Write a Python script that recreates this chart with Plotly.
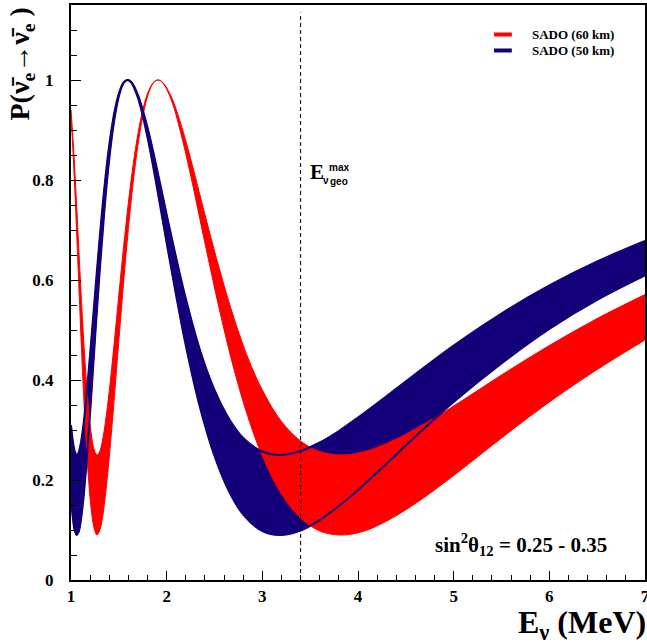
import plotly.graph_objects as go

# ---------------- data ----------------
# 50 km baseline band: upper edge (sin^2 theta12 = 0.25), lower edge (0.35)
E_50 = [1.00, 1.02, 1.04, 1.06, 1.08, 1.10, 1.13, 1.16, 1.20, 1.25, 1.30, 1.35,
        1.40, 1.45, 1.50, 1.55, 1.59, 1.63, 1.70, 1.80, 1.90, 2.00, 2.10, 2.20,
        2.35, 2.50, 2.65, 2.80, 3.00, 3.18, 3.40, 3.60, 3.80, 4.00, 4.30, 4.60,
        5.00, 5.50, 6.00, 6.50, 7.00]
P_50_hi = [0.310, 0.277, 0.257, 0.250, 0.255, 0.271, 0.310, 0.365, 0.452, 0.570,
           0.685, 0.787, 0.870, 0.932, 0.973, 0.995, 1.000, 0.996, 0.970, 0.905,
           0.821, 0.731, 0.644, 0.563, 0.459, 0.380, 0.323, 0.284, 0.257, 0.250,
           0.258, 0.275, 0.298, 0.325, 0.368, 0.412, 0.469, 0.533, 0.589, 0.637,
           0.678]
P_50_lo = [0.163, 0.123, 0.098, 0.090, 0.096, 0.115, 0.163, 0.229, 0.335, 0.479,
           0.618, 0.741, 0.842, 0.917, 0.967, 0.994, 1.000, 0.995, 0.964, 0.885,
           0.783, 0.674, 0.568, 0.469, 0.344, 0.248, 0.178, 0.131, 0.098, 0.090,
           0.099, 0.120, 0.148, 0.180, 0.233, 0.287, 0.356, 0.433, 0.502, 0.560,
           0.609]

# 60 km baseline band
E_60 = [1.00, 1.03, 1.06, 1.09, 1.12, 1.15, 1.18, 1.21, 1.24, 1.27, 1.30, 1.33,
        1.36, 1.40, 1.45, 1.50, 1.55, 1.60, 1.65, 1.70, 1.75, 1.80, 1.86, 1.91,
        1.96, 2.05, 2.15, 2.25, 2.40, 2.55, 2.70, 2.85, 3.00, 3.20, 3.40, 3.60,
        3.82, 4.05, 4.30, 4.60, 5.00, 5.50, 6.00, 6.50, 7.00]
P_60_hi = [0.941, 0.853, 0.745, 0.630, 0.521, 0.426, 0.350, 0.295, 0.262, 0.250,
           0.257, 0.280, 0.316, 0.378, 0.471, 0.570, 0.667, 0.755, 0.831, 0.893,
           0.940, 0.973, 0.995, 1.000, 0.995, 0.966, 0.911, 0.843, 0.731, 0.623,
           0.526, 0.444, 0.380, 0.317, 0.278, 0.257, 0.250, 0.256, 0.273, 0.302,
           0.348, 0.410, 0.469, 0.523, 0.571]
P_60_lo = [0.929, 0.822, 0.690, 0.551, 0.419, 0.303, 0.211, 0.144, 0.105, 0.090,
           0.099, 0.126, 0.170, 0.246, 0.358, 0.479, 0.596, 0.703, 0.795, 0.870,
           0.927, 0.967, 0.994, 1.000, 0.994, 0.959, 0.892, 0.810, 0.674, 0.542,
           0.424, 0.326, 0.248, 0.172, 0.124, 0.098, 0.090, 0.097, 0.118, 0.153,
           0.209, 0.284, 0.356, 0.421, 0.480]

E_geo_max = 3.40

x_tickvals = [1, 2, 3, 4, 5, 6, 7]
x_ticktext = ["1", "2", "3", "4", "5", "6", "7"]
y_tickvals = [0, 0.2, 0.4, 0.6, 0.8, 1.0]
y_ticktext = ["0", "0.2", "0.4", "0.6", "0.8", "1"]

legend_labels = ["SADO (60 km)", "SADO (50 km)"]

# ---------------- style ----------------
RED = "#ff0000"
BLUE = "#140078"
SERIF = "Liberation Serif"
SANS = "Liberation Sans"

fig = go.Figure()

# blue band
fig.add_trace(go.Scatter(x=E_50, y=P_50_lo, mode="lines",
                         line=dict(color=BLUE, width=1, shape="spline"),
                         showlegend=False, hoverinfo="skip"))
fig.add_trace(go.Scatter(x=E_50, y=P_50_hi, mode="lines", fill="tonexty",
                         fillcolor=BLUE,
                         line=dict(color=BLUE, width=1, shape="spline"),
                         showlegend=False, hoverinfo="skip"))
# red band (drawn over blue)
fig.add_trace(go.Scatter(x=E_60, y=P_60_lo, mode="lines",
                         line=dict(color=RED, width=1, shape="spline"),
                         showlegend=False, hoverinfo="skip"))
fig.add_trace(go.Scatter(x=E_60, y=P_60_hi, mode="lines", fill="tonexty",
                         fillcolor=RED,
                         line=dict(color=RED, width=1, shape="spline"),
                         showlegend=False, hoverinfo="skip"))
# blue band edges on top
for yy in (P_50_lo, P_50_hi):
    fig.add_trace(go.Scatter(x=E_50, y=yy, mode="lines",
                             line=dict(color=BLUE, width=2, shape="spline"),
                             showlegend=False, hoverinfo="skip"))

# dashed vertical line
fig.add_shape(type="line", xref="x", yref="y", x0=E_geo_max, x1=E_geo_max,
              y0=0, y1=1.135, line=dict(color="black", width=1, dash="4px,3px"))


def note(x, y, text, size, family=SERIF, xa="center", ya="middle", angle=0):
    fig.add_annotation(xref="paper", yref="paper", x=x, y=y, text=text,
                       xanchor=xa, yanchor=ya, showarrow=False, textangle=angle,
                       font=dict(family=family, size=size, color="black",
                                 weight="bold"))


# legend (manual)
for i, (lab, col) in enumerate(zip(legend_labels, [RED, BLUE])):
    yp = 0.9487 - i * 0.0278
    fig.add_shape(type="line", xref="paper", yref="paper", x0=0.737, x1=0.768,
                  y0=yp, y1=yp, line=dict(color=col, width=4))
    note(0.7997, yp, lab, 13, xa="left")

# E_nu_geo^max label
note(0.4286, 0.7096, "E", 21)
note(0.4669, 0.7175, "max", 10, family=SANS)
note(0.4443, 0.6950, "ν", 10, family=SANS)
note(0.4669, 0.6925, "geo", 10, family=SANS)

# sin^2 theta label
note(0.784, 0.061, "sin<sup>2</sup>θ<sub>12</sub> = 0.25 - 0.35", 21)

# axis titles
note(1.005, -0.077, "E<sub>ν</sub> (MeV)", 32, xa="right")
note(-0.0854, 1.0, "P(ν̄<sub>e</sub>→ν̄<sub>e</sub> )", 28, ya="top", angle=-90)

axis_common = dict(showgrid=False, zeroline=False, showline=True,
                   linecolor="black", linewidth=2, mirror=True,
                   ticks="inside", tickcolor="black", tickwidth=1,
                   ticklabeloverflow="allow", automargin=False,
                   tickfont=dict(family=SERIF, size=17, color="black",
                                 weight="bold"))

fig.update_xaxes(range=[1, 7], tickvals=x_tickvals, ticktext=x_ticktext,
                 ticklen=9, ticklabelstandoff=0,
                 minor=dict(dtick=0.2, ticks="inside", ticklen=5,
                            tickcolor="black", tickwidth=1),
                 **axis_common)
fig.update_yaxes(range=[0, 1.15], tickvals=y_tickvals, ticktext=y_ticktext,
                 ticklen=10, ticklabelstandoff=12,
                 minor=dict(dtick=0.05, tick0=0, ticks="inside", ticklen=6,
                            tickcolor="black", tickwidth=1),
                 **axis_common)

fig.update_layout(width=647, height=643,
                  margin=dict(l=71, r=2, t=5, b=63, autoexpand=False),
                  paper_bgcolor="white", plot_bgcolor="white",
                  showlegend=False)

fig.write_html("out.html")
